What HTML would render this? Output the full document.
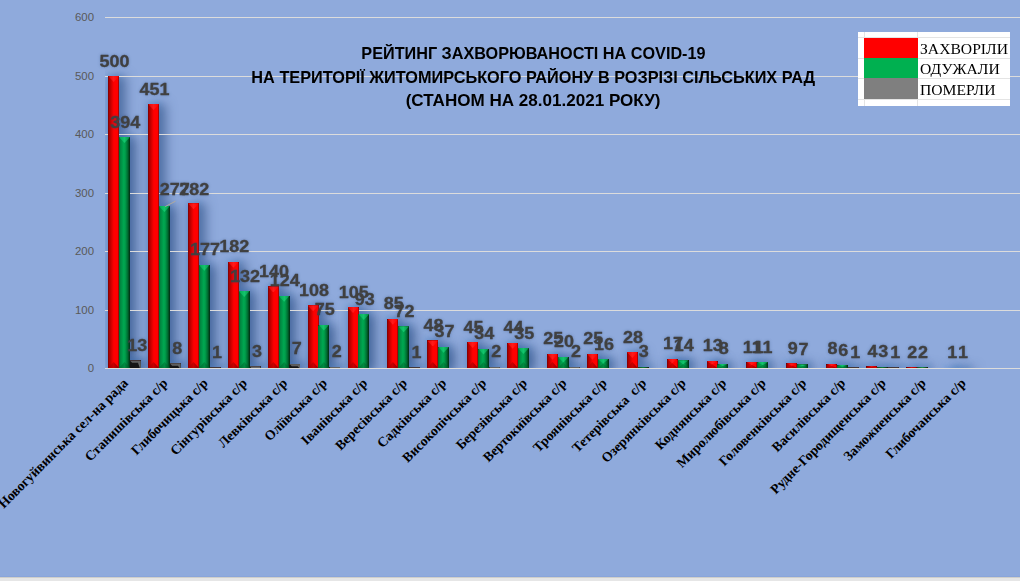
<!DOCTYPE html>
<html><head><meta charset="utf-8"><title>chart</title>
<style>
html,body{margin:0;padding:0;}
body{width:1020px;height:581px;overflow:hidden;background:#8faadc;position:relative;font-family:"Liberation Sans",sans-serif;}
#plot,#sh{position:absolute;left:105px;top:0;width:915px;height:368px;overflow:hidden;}
.g{position:absolute;left:105px;right:0;height:1px;background:#dcdcdc;}
.ax{position:absolute;left:60px;width:34px;text-align:right;font-size:11.4px;line-height:12px;color:#595959;}
.b{position:absolute;box-shadow:inset 0 1px 0 rgba(60,0,0,.45);}
.s{position:absolute;box-shadow:5px 2px 11px 2px rgba(45,75,125,.6),0 0 5px 2px rgba(40,130,225,.2);}
.b:before,.b:after{content:"";position:absolute;left:0;right:0;height:6px;max-height:50%;}
.b:before{top:0;clip-path:polygon(0 0,100% 0,50% 100%);}
.b:after{bottom:0;clip-path:polygon(0 100%,50% 0,100% 100%);}
.r{background:linear-gradient(90deg,#4a0000 0,#a00000 6%,#b40000 18%,#d60000 33%,#f60000 48%,#f00 55%,#f00 86%,#c80000 94%,#700000 100%);}
.r:before{background:linear-gradient(90deg,#e00000,#ff1a1a 50%,#f00);}
.r:after{background:linear-gradient(90deg,#a00000,#c80000 50%,#8a0000);}
.gr{background:linear-gradient(90deg,#006a30 0,#008a42 15%,#00a650 42%,#00a04c 55%,#006e32 78%,#002a10 100%);}
.gr:before{background:linear-gradient(90deg,#00a855,#14c46c 50%,#008a40);}
.gr:after{background:linear-gradient(90deg,#006e32,#008a40 50%,#004a20);}
.d{background:#151515;}
.d:before{height:auto;max-height:none;bottom:0;background:linear-gradient(180deg,#585858,#6c6c6c);clip-path:polygon(0 0,100% 0,100% 100%,calc(100% - 1px) 100%,calc(100% - 2.8px) 2.4px,2.4px 2.4px);}
.d:after{display:none;}
.l{position:absolute;width:60px;margin-left:-30px;text-align:center;font-weight:bold;font-size:16px;line-height:16px;color:#404040;transform:scaleX(1.1);text-shadow:0 0 3px rgba(40,70,120,.35);-webkit-text-stroke:.35px #404040;}
.c{position:absolute;white-space:pre;font-family:"Liberation Serif",serif;font-weight:bold;font-size:13.65px;line-height:16px;color:#000;transform-origin:100% 50%;transform:rotate(-45deg);text-align:right;}
.t{position:absolute;left:0;width:1066px;text-align:center;font-weight:bold;font-size:17.3px;line-height:20px;color:#000;white-space:nowrap;}
.t span{display:inline-block;transform-origin:50% 50%;}
#lb{position:absolute;left:0;top:0;filter:drop-shadow(0 0 1.5px rgba(40,70,120,.4));}
#lg{position:absolute;left:858px;top:32px;width:152px;height:74px;background:#fff;}
#lg i{position:absolute;display:block;}
#lg b{position:absolute;left:62px;font-family:"Liberation Serif",serif;font-weight:normal;font-size:15.2px;line-height:16px;color:#000;white-space:nowrap;transform-origin:0 50%;transform:scaleX(1.03);}
#bt{position:absolute;left:0;right:0;top:576px;height:5px;background:linear-gradient(180deg,#8aa5da 0,#8aa5da 1px,#cfcfcb 1px,#cfcfcb 2px,#e6e6e6 2px);}
</style></head><body>
<div id="sh">
<div class="s" style="left:3.2px;top:76.1px;width:11.0px;height:291.9px"></div>
<div class="s" style="left:14.0px;top:137.0px;width:11.0px;height:231.0px"></div>
<div class="s" style="left:24.8px;top:360.4px;width:11.0px;height:7.6px"></div>
<div class="s" style="left:43.1px;top:104.1px;width:11.0px;height:263.9px"></div>
<div class="s" style="left:53.9px;top:206.1px;width:11.0px;height:161.9px"></div>
<div class="s" style="left:64.7px;top:363.3px;width:11.0px;height:4.7px"></div>
<div class="s" style="left:83.0px;top:203.2px;width:11.0px;height:164.8px"></div>
<div class="s" style="left:93.8px;top:264.7px;width:11.0px;height:103.3px"></div>
<div class="s" style="left:104.6px;top:367.4px;width:11.0px;height:0.6px"></div>
<div class="s" style="left:122.9px;top:261.8px;width:11.0px;height:106.2px"></div>
<div class="s" style="left:133.7px;top:291.1px;width:11.0px;height:76.9px"></div>
<div class="s" style="left:144.5px;top:366.2px;width:11.0px;height:1.8px"></div>
<div class="s" style="left:162.8px;top:286.4px;width:11.0px;height:81.6px"></div>
<div class="s" style="left:173.6px;top:295.8px;width:11.0px;height:72.2px"></div>
<div class="s" style="left:184.4px;top:363.9px;width:11.0px;height:4.1px"></div>
<div class="s" style="left:202.6px;top:305.2px;width:11.0px;height:62.8px"></div>
<div class="s" style="left:213.4px;top:324.5px;width:11.0px;height:43.5px"></div>
<div class="s" style="left:224.2px;top:366.8px;width:11.0px;height:1.2px"></div>
<div class="s" style="left:242.5px;top:306.9px;width:11.0px;height:61.1px"></div>
<div class="s" style="left:253.3px;top:314.0px;width:11.0px;height:54.0px"></div>
<div class="s" style="left:282.4px;top:318.7px;width:11.0px;height:49.3px"></div>
<div class="s" style="left:293.2px;top:326.3px;width:11.0px;height:41.7px"></div>
<div class="s" style="left:304.0px;top:367.4px;width:11.0px;height:0.6px"></div>
<div class="s" style="left:322.3px;top:340.4px;width:11.0px;height:27.6px"></div>
<div class="s" style="left:333.1px;top:346.8px;width:11.0px;height:21.2px"></div>
<div class="s" style="left:362.2px;top:342.1px;width:11.0px;height:25.9px"></div>
<div class="s" style="left:373.0px;top:348.6px;width:11.0px;height:19.4px"></div>
<div class="s" style="left:383.8px;top:366.8px;width:11.0px;height:1.2px"></div>
<div class="s" style="left:402.1px;top:342.7px;width:11.0px;height:25.3px"></div>
<div class="s" style="left:412.9px;top:348.0px;width:11.0px;height:20.0px"></div>
<div class="s" style="left:442.0px;top:353.8px;width:11.0px;height:14.2px"></div>
<div class="s" style="left:452.8px;top:356.8px;width:11.0px;height:11.2px"></div>
<div class="s" style="left:463.6px;top:366.8px;width:11.0px;height:1.2px"></div>
<div class="s" style="left:481.9px;top:353.8px;width:11.0px;height:14.2px"></div>
<div class="s" style="left:492.7px;top:359.1px;width:11.0px;height:8.9px"></div>
<div class="s" style="left:521.8px;top:352.1px;width:11.0px;height:15.9px"></div>
<div class="s" style="left:532.6px;top:366.7px;width:11.0px;height:1.3px"></div>
<div class="s" style="left:561.7px;top:358.5px;width:11.0px;height:9.5px"></div>
<div class="s" style="left:572.5px;top:360.3px;width:11.0px;height:7.7px"></div>
<div class="s" style="left:601.6px;top:360.9px;width:11.0px;height:7.1px"></div>
<div class="s" style="left:612.4px;top:363.8px;width:11.0px;height:4.2px"></div>
<div class="s" style="left:641.4px;top:362.1px;width:11.0px;height:5.9px"></div>
<div class="s" style="left:652.2px;top:362.1px;width:11.0px;height:5.9px"></div>
<div class="s" style="left:681.3px;top:363.2px;width:11.0px;height:4.8px"></div>
<div class="s" style="left:692.1px;top:364.4px;width:11.0px;height:3.6px"></div>
<div class="s" style="left:721.2px;top:363.8px;width:11.0px;height:4.2px"></div>
<div class="s" style="left:732.0px;top:365.0px;width:11.0px;height:3.0px"></div>
<div class="s" style="left:742.8px;top:367.4px;width:11.0px;height:0.6px"></div>
<div class="s" style="left:761.1px;top:366.2px;width:11.0px;height:1.8px"></div>
<div class="s" style="left:771.9px;top:366.7px;width:11.0px;height:1.3px"></div>
<div class="s" style="left:782.7px;top:367.4px;width:11.0px;height:0.6px"></div>
<div class="s" style="left:801.0px;top:367.3px;width:11.0px;height:0.7px"></div>
<div class="s" style="left:811.8px;top:367.3px;width:11.0px;height:0.7px"></div>
<div class="s" style="left:840.9px;top:367.9px;width:11.0px;height:0.1px"></div>
<div class="s" style="left:851.7px;top:367.9px;width:11.0px;height:0.1px"></div>
</div>
<div class="g" style="top:310px"></div>
<div class="g" style="top:251px"></div>
<div class="g" style="top:193px"></div>
<div class="g" style="top:134px"></div>
<div class="g" style="top:76px"></div>
<div class="g" style="top:17px"></div>
<div class="ax" style="top:361.8px">0</div>
<div class="ax" style="top:303.8px">100</div>
<div class="ax" style="top:244.8px">200</div>
<div class="ax" style="top:186.8px">300</div>
<div class="ax" style="top:127.8px">400</div>
<div class="ax" style="top:69.8px">500</div>
<div class="ax" style="top:10.8px">600</div>
<div id="plot">
<div class="b r" style="left:3.2px;top:76.1px;width:11.0px;height:291.9px"></div>
<div class="b gr" style="left:14.0px;top:137.0px;width:11.0px;height:231.0px"></div>
<div class="b d" style="left:24.8px;top:360.4px;width:11.0px;height:7.6px"></div>
<div class="b r" style="left:43.1px;top:104.1px;width:11.0px;height:263.9px"></div>
<div class="b gr" style="left:53.9px;top:206.1px;width:11.0px;height:161.9px"></div>
<div class="b d" style="left:64.7px;top:363.3px;width:11.0px;height:4.7px"></div>
<div class="b r" style="left:83.0px;top:203.2px;width:11.0px;height:164.8px"></div>
<div class="b gr" style="left:93.8px;top:264.7px;width:11.0px;height:103.3px"></div>
<div class="b d" style="left:104.6px;top:367.4px;width:11.0px;height:0.6px"></div>
<div class="b r" style="left:122.9px;top:261.8px;width:11.0px;height:106.2px"></div>
<div class="b gr" style="left:133.7px;top:291.1px;width:11.0px;height:76.9px"></div>
<div class="b d" style="left:144.5px;top:366.2px;width:11.0px;height:1.8px"></div>
<div class="b r" style="left:162.8px;top:286.4px;width:11.0px;height:81.6px"></div>
<div class="b gr" style="left:173.6px;top:295.8px;width:11.0px;height:72.2px"></div>
<div class="b d" style="left:184.4px;top:363.9px;width:11.0px;height:4.1px"></div>
<div class="b r" style="left:202.6px;top:305.2px;width:11.0px;height:62.8px"></div>
<div class="b gr" style="left:213.4px;top:324.5px;width:11.0px;height:43.5px"></div>
<div class="b d" style="left:224.2px;top:366.8px;width:11.0px;height:1.2px"></div>
<div class="b r" style="left:242.5px;top:306.9px;width:11.0px;height:61.1px"></div>
<div class="b gr" style="left:253.3px;top:314.0px;width:11.0px;height:54.0px"></div>
<div class="b r" style="left:282.4px;top:318.7px;width:11.0px;height:49.3px"></div>
<div class="b gr" style="left:293.2px;top:326.3px;width:11.0px;height:41.7px"></div>
<div class="b d" style="left:304.0px;top:367.4px;width:11.0px;height:0.6px"></div>
<div class="b r" style="left:322.3px;top:340.4px;width:11.0px;height:27.6px"></div>
<div class="b gr" style="left:333.1px;top:346.8px;width:11.0px;height:21.2px"></div>
<div class="b r" style="left:362.2px;top:342.1px;width:11.0px;height:25.9px"></div>
<div class="b gr" style="left:373.0px;top:348.6px;width:11.0px;height:19.4px"></div>
<div class="b d" style="left:383.8px;top:366.8px;width:11.0px;height:1.2px"></div>
<div class="b r" style="left:402.1px;top:342.7px;width:11.0px;height:25.3px"></div>
<div class="b gr" style="left:412.9px;top:348.0px;width:11.0px;height:20.0px"></div>
<div class="b r" style="left:442.0px;top:353.8px;width:11.0px;height:14.2px"></div>
<div class="b gr" style="left:452.8px;top:356.8px;width:11.0px;height:11.2px"></div>
<div class="b d" style="left:463.6px;top:366.8px;width:11.0px;height:1.2px"></div>
<div class="b r" style="left:481.9px;top:353.8px;width:11.0px;height:14.2px"></div>
<div class="b gr" style="left:492.7px;top:359.1px;width:11.0px;height:8.9px"></div>
<div class="b r" style="left:521.8px;top:352.1px;width:11.0px;height:15.9px"></div>
<div class="b gr" style="left:532.6px;top:366.7px;width:11.0px;height:1.3px"></div>
<div class="b r" style="left:561.7px;top:358.5px;width:11.0px;height:9.5px"></div>
<div class="b gr" style="left:572.5px;top:360.3px;width:11.0px;height:7.7px"></div>
<div class="b r" style="left:601.6px;top:360.9px;width:11.0px;height:7.1px"></div>
<div class="b gr" style="left:612.4px;top:363.8px;width:11.0px;height:4.2px"></div>
<div class="b r" style="left:641.4px;top:362.1px;width:11.0px;height:5.9px"></div>
<div class="b gr" style="left:652.2px;top:362.1px;width:11.0px;height:5.9px"></div>
<div class="b r" style="left:681.3px;top:363.2px;width:11.0px;height:4.8px"></div>
<div class="b gr" style="left:692.1px;top:364.4px;width:11.0px;height:3.6px"></div>
<div class="b r" style="left:721.2px;top:363.8px;width:11.0px;height:4.2px"></div>
<div class="b gr" style="left:732.0px;top:365.0px;width:11.0px;height:3.0px"></div>
<div class="b d" style="left:742.8px;top:367.4px;width:11.0px;height:0.6px"></div>
<div class="b r" style="left:761.1px;top:366.2px;width:11.0px;height:1.8px"></div>
<div class="b gr" style="left:771.9px;top:366.7px;width:11.0px;height:1.3px"></div>
<div class="b d" style="left:782.7px;top:367.4px;width:11.0px;height:0.6px"></div>
<div class="b r" style="left:801.0px;top:367.3px;width:11.0px;height:0.7px"></div>
<div class="b gr" style="left:811.8px;top:367.3px;width:11.0px;height:0.7px"></div>
<div class="b r" style="left:840.9px;top:367.9px;width:11.0px;height:0.1px"></div>
<div class="b gr" style="left:851.7px;top:367.9px;width:11.0px;height:0.1px"></div>
</div>
<div class="g" style="top:368px"></div>
<svg style="position:absolute;left:160px;top:196px" width="20" height="14"><line x1="5.3" y1="10.5" x2="15.5" y2="5.2" stroke="#b3aa9c" stroke-width="1"/></svg>
<svg id="lb" width="1020" height="581" viewBox="0 0 1020 581"><g fill="#404040" stroke="#404040" stroke-width="0.28" stroke-linejoin="round" font-family="'Liberation Sans',sans-serif" font-weight="bold" font-size="16.18">
<text transform="translate(99.50,66.67) scale(1.1114,1)">500</text>
<text transform="translate(110.30,127.57) scale(1.1114,1)">394</text>
<text transform="translate(127.30,350.94) scale(1.1114,1)">13</text>
<text transform="translate(139.39,94.69) scale(1.1114,1)">451</text>
<text transform="translate(159.80,195.27) scale(1.1114,1)">277</text>
<text transform="translate(172.19,353.88) scale(1.1114,1)">8</text>
<text transform="translate(179.28,194.76) scale(1.1114,1)">282</text>
<text transform="translate(190.08,255.31) scale(1.1114,1)">177</text>
<text transform="translate(212.08,357.98) scale(1.1114,1)">1</text>
<text transform="translate(219.17,252.38) scale(1.1114,1)">182</text>
<text transform="translate(229.97,281.69) scale(1.1114,1)">132</text>
<text transform="translate(251.97,356.81) scale(1.1114,1)">3</text>
<text transform="translate(259.06,277.00) scale(1.1114,1)">140</text>
<text transform="translate(269.86,286.38) scale(1.1114,1)">124</text>
<text transform="translate(291.86,354.46) scale(1.1114,1)">7</text>
<text transform="translate(298.95,295.76) scale(1.1114,1)">108</text>
<text transform="translate(314.75,315.10) scale(1.1114,1)">75</text>
<text transform="translate(331.75,357.39) scale(1.1114,1)">2</text>
<text transform="translate(338.84,297.51) scale(1.1114,1)">105</text>
<text transform="translate(354.64,304.55) scale(1.1114,1)">93</text>
<text transform="translate(383.73,309.24) scale(1.1114,1)">85</text>
<text transform="translate(394.53,316.86) scale(1.1114,1)">72</text>
<text transform="translate(411.53,357.98) scale(1.1114,1)">1</text>
<text transform="translate(423.62,330.93) scale(1.1114,1)">48</text>
<text transform="translate(434.42,337.38) scale(1.1114,1)">37</text>
<text transform="translate(463.51,332.69) scale(1.1114,1)">45</text>
<text transform="translate(474.31,339.13) scale(1.1114,1)">34</text>
<text transform="translate(491.31,357.39) scale(1.1114,1)">2</text>
<text transform="translate(503.40,333.27) scale(1.1114,1)">44</text>
<text transform="translate(514.20,338.55) scale(1.1114,1)">35</text>
<text transform="translate(543.29,344.41) scale(1.1114,1)">25</text>
<text transform="translate(554.09,347.34) scale(1.1114,1)">20</text>
<text transform="translate(571.09,357.39) scale(1.1114,1)">2</text>
<text transform="translate(583.18,344.41) scale(1.1114,1)">25</text>
<text transform="translate(593.98,349.69) scale(1.1114,1)">16</text>
<text transform="translate(623.07,342.65) scale(1.1114,1)">28</text>
<text transform="translate(638.87,357.31) scale(1.1114,1)">3</text>
<text transform="translate(662.96,349.10) scale(1.1114,1)">17</text>
<text transform="translate(673.76,350.86) scale(1.1114,1)">14</text>
<text transform="translate(702.85,351.44) scale(1.1114,1)">13</text>
<text transform="translate(718.65,354.38) scale(1.1114,1)">8</text>
<text transform="translate(742.74,352.62) scale(1.1114,1)">11</text>
<text transform="translate(753.54,352.62) scale(1.1114,1)">11</text>
<text transform="translate(787.63,353.79) scale(1.1114,1)">9</text>
<text transform="translate(798.43,354.96) scale(1.1114,1)">7</text>
<text transform="translate(827.52,354.38) scale(1.1114,1)">8</text>
<text transform="translate(838.32,355.55) scale(1.1114,1)">6</text>
<text transform="translate(850.32,357.98) scale(1.1114,1)">1</text>
<text transform="translate(867.41,356.72) scale(1.1114,1)">4</text>
<text transform="translate(878.21,357.31) scale(1.1114,1)">3</text>
<text transform="translate(890.21,357.98) scale(1.1114,1)">1</text>
<text transform="translate(907.30,357.89) scale(1.1114,1)">2</text>
<text transform="translate(918.10,357.89) scale(1.1114,1)">2</text>
<text transform="translate(947.19,358.48) scale(1.1114,1)">1</text>
<text transform="translate(957.99,358.48) scale(1.1114,1)">1</text>
</g></svg>
<div class="c" style="right:894.3px;top:373.0px">Новогуйвинська сел-на рада</div>
<div class="c" style="right:854.4px;top:373.0px">Станишівська с/р</div>
<div class="c" style="right:814.5px;top:373.0px">Глибочицька с/р</div>
<div class="c" style="right:774.6px;top:373.0px">Сінгурівська с/р</div>
<div class="c" style="right:734.7px;top:373.0px">Левківська с/р</div>
<div class="c" style="right:694.9px;top:373.0px">Оліївська с/р</div>
<div class="c" style="right:655.0px;top:373.0px">Іванівська с/р</div>
<div class="c" style="right:615.1px;top:373.0px">Вересівська с/р</div>
<div class="c" style="right:575.2px;top:373.0px">Садківська с/р</div>
<div class="c" style="right:535.3px;top:373.0px">Високопічська с/р</div>
<div class="c" style="right:495.4px;top:373.0px">Березівська с/р</div>
<div class="c" style="right:455.5px;top:373.0px">Вертокиївська с/р</div>
<div class="c" style="right:415.6px;top:373.0px">Троянівська с/р</div>
<div class="c" style="right:375.7px;top:373.0px">Тетерівська  с/р</div>
<div class="c" style="right:335.8px;top:373.0px">Озерянківська с/р</div>
<div class="c" style="right:295.9px;top:373.0px">Коднянська с/р</div>
<div class="c" style="right:256.1px;top:373.0px">Миролюбівська с/р</div>
<div class="c" style="right:216.2px;top:373.0px">Головенківська с/р</div>
<div class="c" style="right:176.3px;top:373.0px">Василівська с/р</div>
<div class="c" style="right:136.4px;top:373.0px">Рудне-Городищенська с/р</div>
<div class="c" style="right:96.5px;top:373.0px">Заможненська с/р</div>
<div class="c" style="right:56.6px;top:373.0px">Глибочанська с/р</div>
<div class="t" style="top:43.3px"><span style="transform:scaleX(0.938)">РЕЙТИНГ ЗАХВОРЮВАНОСТІ НА COVID-19</span></div>
<div class="t" style="top:67.3px"><span style="transform:scaleX(0.942)">НА ТЕРИТОРІЇ ЖИТОМИРСЬКОГО РАЙОНУ В РОЗРІЗІ СІЛЬСЬКИХ РАД</span></div>
<div class="t" style="top:90.2px"><span style="transform:scaleX(0.987)">(СТАНОМ НА 28.01.2021 РОКУ)</span></div>
<div id="lg">
<i style="left:6px;top:0;width:1px;height:74px;background:#e4e4e4"></i>
<i style="left:59px;top:0;width:1px;height:74px;background:#e4e4e4"></i>
<i style="left:0;top:5px;width:152px;height:1px;background:#e4e4e4"></i>
<i style="left:0;top:26px;width:152px;height:1px;background:#e4e4e4"></i>
<i style="left:0;top:46px;width:152px;height:1px;background:#e4e4e4"></i>
<i style="left:0;top:67px;width:152px;height:1px;background:#e4e4e4"></i>
<i style="left:6px;top:6px;width:54px;height:20px;background:#f00"></i>
<i style="left:6px;top:26px;width:54px;height:20px;background:#00b050"></i>
<i style="left:6px;top:46px;width:54px;height:21px;background:#7f7f7f"></i>
<b style="top:9px">ЗАХВОРІЛИ</b>
<b style="top:29px">ОДУЖАЛИ</b>
<b style="top:50px">ПОМЕРЛИ</b>
</div>
<div id="bt"></div>
</body></html>
